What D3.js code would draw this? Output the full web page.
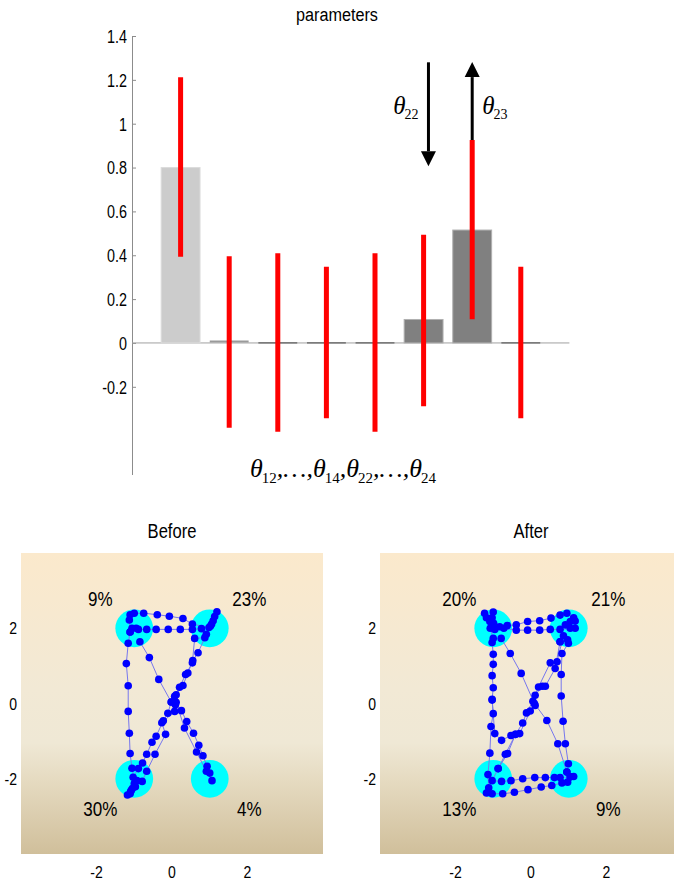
<!DOCTYPE html>
<html>
<head>
<meta charset="utf-8">
<script src="https://cdn.jsdelivr.net/npm/d3@7"></script>
<style>
  html, body { margin: 0; padding: 0; background: #ffffff; }
  svg { display: block; }
  text { font-family: "Liberation Sans", Arial, sans-serif; }
  .math { font-family: "Liberation Serif", "Times New Roman", serif; font-style: italic; }
  .sub { font-style: normal; }
</style>
</head>
<body>
<script>
// ---------------- DATA ----------------
// Top chart: parameter estimates (bars) and intervals (red)
const barPositions = [1, 2, 3, 4, 5, 6, 7, 8];
const barValues    = [0.80, 0.004, 0, 0, 0, 0.107, 0.515, 0];
const barShade     = ["light", "light", "dark", "dark", "dark", "dark", "dark", "dark"];
const intervalLow  = [0.393, -0.387, -0.405, -0.344, -0.405, -0.289, 0.108, -0.344];
const intervalHigh = [1.212, 0.396, 0.409, 0.348, 0.409, 0.494, 0.926, 0.348];
const yTickValues  = [-0.2, 0, 0.2, 0.4, 0.6, 0.8, 1.0, 1.2, 1.4];
const yTickLabels  = ["-0.2", "0", "0.2", "0.4", "0.6", "0.8", "1", "1.2", "1.4"];
const arrowX       = [6.1, 7.0];
const arrowFrom    = [1.28, 0.80];
const arrowTo      = [0.806, 1.281];
const arrowSub     = ["22", "23"];
const chartTitle   = "parameters";

// Bottom panels
const wellCenters  = [[-1, 2], [1, 2], [-1, -2], [1, -2]];
const panelTicks   = [-2, 0, 2];
const beforeLabels = ["9%", "23%", "30%", "4%"];
const afterLabels  = ["20%", "21%", "13%", "9%"];
const labelPos     = [[-1.9, 2.8], [2.05, 2.8], [-1.9, -2.8], [2.05, -2.8]];

const beforeTraj1 = [[-1.11,1.90],[-1.13,2.22],[-1.11,2.36],[-1.00,2.40],[-0.75,2.40],[-0.39,2.36],[-0.07,2.32],[0.29,2.26],[0.54,2.11],[0.98,2.02],[1.05,2.11],[1.09,2.20],[1.13,2.31],[1.19,2.44],[1.02,2.06],[0.91,1.84],[0.69,1.35],[0.55,1.14],[0.42,0.81],[0.29,0.48],[0.11,0.23],[-0.02,0.04],[-0.11,-0.26],[-0.23,-0.46],[-0.42,-0.87],[-0.53,-1.03],[-0.67,-1.35],[-0.78,-1.58],[-0.89,-1.73],[-1.03,-1.96],[-1.00,-2.13],[-1.05,-2.26],[-1.11,-2.40],[-1.18,-2.43]];
const beforeTraj2 = [[-1.08,-2.31],[-0.97,-2.21],[-1.06,-1.72],[-1.11,-1.33],[-1.13,-0.79],[-1.16,-0.21],[-1.16,0.47],[-1.21,1.06],[-1.16,1.60],[-1.11,1.90],[-1.06,2.00],[-0.95,2.00],[-0.89,1.97],[-0.67,1.97],[-0.42,1.97],[-0.10,1.97],[0.22,1.97],[0.54,1.97],[0.78,1.99],[0.87,1.75],[0.60,1.73],[0.54,1.08],[0.36,0.77],[0.20,0.43],[0.07,0.19],[0.07,-0.21],[-0.27,-0.51],[-0.17,-0.82],[-0.45,-1.35],[-0.67,-1.80],[-0.79,-2.07],[-0.93,-2.05],[-1.10,-2.35]];
const beforeTraj3 = [[-0.85,1.64],[-0.60,1.22],[-0.35,0.64],[-0.02,0.04],[0.09,-0.03],[0.25,-0.19],[0.39,-0.48],[0.57,-0.79],[0.71,-1.11],[0.82,-1.39],[0.93,-1.67],[1.00,-1.85],[1.06,-2.05]];
const beforeTraj4 = [[0.11,0.03],[0.33,-0.65],[0.65,-1.29],[0.91,-1.80]];

const afterTraj1 = [[-1.23,2.40],[-1.18,2.28],[-1.00,2.43],[-1.03,2.28],[-1.09,2.18],[-0.99,2.13],[-0.83,2.04],[-0.63,2.07],[-0.39,2.09],[-0.09,2.18],[0.23,2.20],[0.53,2.27],[0.77,2.35],[0.95,2.40],[1.13,2.28],[1.17,2.19],[1.04,2.18],[0.91,2.09],[1.04,2.00],[1.17,2.00],[0.77,1.97],[0.51,1.97],[0.23,1.95],[-0.09,1.95],[-0.39,1.95],[-0.72,2.00],[-0.96,1.97],[-1.08,2.00],[-1.00,1.73],[-1.03,1.62],[-1.00,1.31],[-1.00,1.04],[-1.03,0.74],[-1.00,0.42],[-1.03,0.11],[-1.00,-0.27],[-1.06,-0.61],[-1.09,-1.32],[-1.14,-1.89],[-1.12,-2.24],[-1.18,-2.38],[-1.03,-2.40],[-0.75,-2.40],[-0.44,-2.36],[-0.08,-2.29],[0.27,-2.22],[0.55,-2.18],[0.82,-2.11],[0.97,-2.09],[1.13,-1.94],[1.04,-1.95],[0.95,-1.82],[0.99,-1.60],[0.91,-1.07],[0.85,-0.47],[0.80,0.20],[0.80,0.77],[0.82,1.33],[0.99,1.60],[0.97,1.69]];
const afterTraj2 = [[-0.79,1.73],[-0.55,1.33],[-0.26,0.80],[0.09,0.00],[0.42,-0.45],[0.71,-1.07],[0.95,-1.82],[1.04,-1.95],[0.77,-1.97],[0.62,-1.97],[0.38,-1.97],[0.10,-1.97],[-0.22,-2.00],[-0.53,-2.05],[-0.78,-2.07],[-1.03,-2.05],[-0.87,-1.73],[-0.68,-1.35],[-0.41,-0.82],[-0.22,-0.52],[-0.12,-0.25],[0.05,0.06],[0.20,0.44],[0.51,1.08],[0.69,1.11],[0.86,1.80],[0.77,1.64]];
const afterTraj3 = [[-1.03,0.09],[-0.96,-0.80],[-0.78,-0.98],[-0.53,-0.85],[-0.30,-0.80],[-0.02,-0.20],[0.11,-0.05],[0.11,0.22],[0.30,0.46],[0.38,0.46],[0.64,0.93],[0.77,1.64]];
const afterTraj4 = [[-0.87,-1.73],[-0.62,-1.33],[-0.41,-0.82]];

// ---------------- DRAW ----------------
const W = 674, H = 882;
const svg = d3.select("body").append("svg").attr("width", W).attr("height", H);

// ===== Top chart =====
const x = d3.scaleLinear().domain([0, 9]).range([132, 569.4]);
const y = d3.scaleLinear().domain([-0.6, 1.4]).range([474.5, 36]);

svg.append("text").attr("x", 337).attr("y", 21).attr("text-anchor", "middle")
  .attr("font-size", 18).attr("data-squeeze", 0.9).text(chartTitle);

const yAxis = d3.axisLeft(y).tickValues(yTickValues)
  .tickFormat((d, i) => yTickLabels[i]).tickSizeInner(-4).tickSizeOuter(0).tickPadding(5);
const gy = svg.append("g").attr("transform", `translate(${x(0)},0)`).call(yAxis);
gy.select(".domain").attr("stroke", "#8c8c8c");
gy.selectAll(".tick line").attr("stroke", "#8c8c8c");
gy.selectAll(".tick text").attr("font-size", 17.5).attr("fill", "#000").attr("dy", "0.36em")
  .attr("data-squeeze", 0.82)
  .attr("font-family", "Liberation Sans, Arial, sans-serif");

// zero line
svg.append("line").attr("x1", x(0)).attr("x2", x(9)).attr("y1", y(0)).attr("y2", y(0))
  .attr("stroke", "#a0a0a0").attr("stroke-width", 1);

// bars
const barHalf = 0.4;
const shadeFill = { light: "#cccccc", dark: "#808080" };
const shadeEdge = { light: "#dcdcdc", dark: "#b0b0b0" };
const shadeZero = { light: "#9a9a9a", dark: "#606060" };
barValues.forEach((v, i) => {
  const p = barPositions[i];
  const x0 = x(p - barHalf), x1 = x(p + barHalf);
  const yTop = y(Math.max(v, 0)), yBot = y(Math.min(v, 0));
  if (yBot - yTop >= 1.5) {
    svg.append("rect").attr("x", x0).attr("y", yTop).attr("width", x1 - x0).attr("height", yBot - yTop)
      .attr("fill", shadeFill[barShade[i]]).attr("stroke", shadeEdge[barShade[i]]).attr("stroke-width", 1);
  } else {
    svg.append("line").attr("x1", x0).attr("x2", x1).attr("y1", yTop - (v > 0 ? 0.5 : 0)).attr("y2", yTop - (v > 0 ? 0.5 : 0))
      .attr("stroke", shadeZero[barShade[i]]).attr("stroke-width", v > 0 ? 2 : 1.2);
  }
});

// arrows (drawn beneath the red intervals)
arrowX.forEach((ax, i) => {
  const cx = x(ax);
  const yFrom = y(arrowFrom[i]), yTo = y(arrowTo[i]);
  const dir = yTo > yFrom ? 1 : -1;
  const headLen = 15, headW = 7.5;
  const yBase = yTo - dir * headLen;
  svg.append("line").attr("x1", cx).attr("x2", cx).attr("y1", yFrom).attr("y2", yBase)
    .attr("stroke", "#000").attr("stroke-width", 3);
  svg.append("path")
    .attr("d", `M${cx - headW},${yBase} L${cx + headW},${yBase} L${cx},${yTo} Z`)
    .attr("fill", "#000");
});

// red intervals
barPositions.forEach((p, i) => {
  svg.append("line").attr("x1", x(p)).attr("x2", x(p))
    .attr("y1", y(intervalLow[i])).attr("y2", y(intervalHigh[i]))
    .attr("stroke", "#ff0000").attr("stroke-width", 5);
});

// arrow labels
function thetaLabel(parent, xx, yy, sub, anchor, size, subSize) {
  const t = parent.append("text").attr("class", "math").attr("x", xx).attr("y", yy)
    .attr("text-anchor", anchor).attr("font-size", size);
  t.append("tspan").text("θ");
  t.append("tspan").attr("class", "sub").attr("font-size", subSize).attr("dy", 5).attr("dx", -1).text(sub);
  return t;
}
thetaLabel(svg, x(arrowX[0]) - 10, 114, arrowSub[0], "end", 25, 14);
thetaLabel(svg, x(arrowX[1]) + 10, 114, arrowSub[1], "start", 25, 14);

// bottom math label
const ml = svg.append("text").attr("class", "math").attr("x", 343).attr("y", 477)
  .attr("text-anchor", "middle").attr("font-size", 26);
const parts = [["θ", "12"], [",…,", null], ["θ", "14"], [",", null], ["θ", "22"], [",…,", null], ["θ", "24"]];
let lowered = false;
parts.forEach(([main, sub]) => {
  const tm = ml.append("tspan").text(main);
  if (lowered) { tm.attr("dy", -6); lowered = false; }
  if (sub) { ml.append("tspan").attr("class", "sub").attr("font-size", 15).attr("dy", 6).attr("dx", -1).text(sub); lowered = true; }
});

// ===== Bottom panels =====
const defs = svg.append("defs");
const grad = defs.append("linearGradient").attr("id", "bgGrad").attr("x1", 0).attr("y1", 0).attr("x2", 0).attr("y2", 1);
[[0, "#fbe9cc"], [0.45, "#f2e9d5"], [0.63, "#efe8d5"], [0.76, "#e5dac0"], [1, "#d0bf9b"]].forEach(([o, c]) =>
  grad.append("stop").attr("offset", o).attr("stop-color", c));

function drawPanel(left, title, trajs, labels) {
  const px = d3.scaleLinear().domain([-4, 4]).range([left, left + 302]);
  const py = d3.scaleLinear().domain([-4, 4]).range([854, 553]);
  const g = svg.append("g");
  g.append("rect").attr("x", px(-4)).attr("y", py(4)).attr("width", px(4) - px(-4)).attr("height", py(-4) - py(4))
    .attr("fill", "url(#bgGrad)");
  g.append("text").attr("x", px(0)).attr("y", 538).attr("text-anchor", "middle").attr("font-size", 19.5)
    .attr("data-squeeze", 0.85).text(title);
  // ticks
  panelTicks.forEach(t => {
    g.append("text").attr("x", px(-4) - 4).attr("y", py(t) + 6).attr("text-anchor", "end").attr("font-size", 16.5)
      .attr("data-squeeze", 0.85).text(t);
    g.append("text").attr("x", px(t)).attr("y", 878).attr("text-anchor", "middle").attr("font-size", 16.5)
      .attr("data-squeeze", 0.85).text(t);
  });
  // wells
  const r = px(0.5) - px(0);
  g.selectAll(".well").data(wellCenters).join("circle")
    .attr("cx", d => px(d[0])).attr("cy", d => py(d[1])).attr("r", r).attr("fill", "#00ffff");
  // trajectories
  const line = d3.line().x(d => px(d[0])).y(d => py(d[1]));
  trajs.forEach(tr => {
    g.append("path").attr("d", line(tr)).attr("fill", "none").attr("stroke", "#7777ee").attr("stroke-width", 1);
  });
  trajs.forEach(tr => {
    g.selectAll(null).data(tr).join("circle")
      .attr("cx", d => px(d[0])).attr("cy", d => py(d[1])).attr("r", 3.8).attr("fill", "#0000ff");
  });
  labels.forEach((lab, i) => {
    g.append("text").attr("x", px(labelPos[i][0])).attr("y", py(labelPos[i][1]) + 7.5)
      .attr("text-anchor", "middle").attr("font-size", 21).attr("data-squeeze", 0.81).text(lab);
  });
}
drawPanel(21, "Before", [beforeTraj1, beforeTraj2, beforeTraj3, beforeTraj4], beforeLabels);
drawPanel(380, "After", [afterTraj1, afterTraj2, afterTraj3, afterTraj4], afterLabels);

// horizontally condense sans-serif labels to match the narrow lettering of the original
svg.selectAll("text[data-squeeze]").each(function () {
  const k = +this.getAttribute("data-squeeze");
  const len = this.getComputedTextLength();
  this.setAttribute("textLength", (len * k).toFixed(2));
  this.setAttribute("lengthAdjust", "spacingAndGlyphs");
});
</script>
</body>
</html>
